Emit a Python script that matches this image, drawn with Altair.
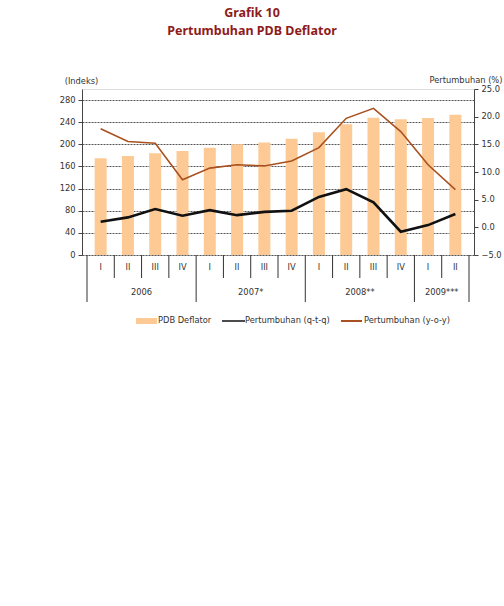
import altair as alt
import pandas as pd

quarters = ["I", "II", "III", "IV", "I", "II", "III", "IV", "I", "II", "III", "IV", "I", "II"]
years = ["2006", "2007*", "2008**", "2009***"]
year_counts = [4, 4, 4, 2]
deflator = [175, 179, 184, 188, 194, 200, 203.5, 210, 222, 236.5, 248, 245.5, 247.5, 253.5]
qtq = [1.0, 1.8, 3.3, 2.1, 3.1, 2.2, 2.8, 3.0, 5.5, 6.9, 4.5, -0.8, 0.4, 2.4]
yoy = [17.8, 15.5, 15.2, 8.6, 10.7, 11.3, 11.1, 12.0, 14.4, 19.7, 21.5, 17.3, 11.3, 6.8]

FONT = "DejaVu Sans"
TFONT = "Noto Sans"
FS = 8.3
W, H = 392, 166
N = len(quarters)

df = pd.DataFrame({"i": list(range(N)), "q": quarters, "defl": deflator, "qtq": qtq, "yoy": yoy})

ystart = []
s = 0
for c in year_counts:
    ystart.append(s)
    s += c
ydf = pd.DataFrame({
    "year": years,
    "mid": [st + (c - 1) / 2 for st, c in zip(ystart, year_counts)],
})
bounds_year = [st - 0.5 for st in ystart] + [N - 0.5]
bounds_q = [b - 0.5 for b in range(1, N) if (b - 0.5) not in bounds_year]
qdiv = pd.DataFrame({"b": bounds_q})
ydiv = pd.DataFrame({"b": bounds_year})

xs = alt.Scale(domain=[-0.5, N - 0.5], nice=False, zero=False)
X = alt.X("i:Q", scale=xs, axis=None)

left_scale = alt.Scale(domain=[0, 300], nice=False)
right_scale = alt.Scale(domain=[-5, 25], nice=False)

bars = alt.Chart(df).mark_bar(size=12, color="#FDCA95").encode(
    x=X,
    y=alt.Y("defl:Q", scale=left_scale, axis=alt.Axis(
        values=list(range(0, 281, 40)), grid=True, gridDash=[2, 1], gridColor="#555",
        gridWidth=1, domainColor="#444", tickColor="#444", tickSize=4,
        labelFont=FONT, labelFontSize=FS, labelColor="#333", labelPadding=3,
        title="(Indeks)", titleAngle=0, titleAlign="center", titleBaseline="middle",
        titleX=-1, titleY=-8, titleFont=FONT, titleFontSize=FS, titleFontWeight="normal",
        titleColor="#333")),
)

line_yoy = alt.Chart(df).mark_line(color="#A8501F", strokeWidth=1.6).encode(
    x=X,
    y=alt.Y("yoy:Q", scale=right_scale, axis=alt.Axis(
        orient="right", values=list(range(-5, 26, 5)), format=".1f", grid=False,
        domainColor="#444", tickColor="#444", tickSize=4,
        labelFont=FONT, labelFontSize=FS, labelColor="#333", labelPadding=3,
        title="Pertumbuhan (%)", titleAngle=0, titleAlign="right", titleBaseline="middle",
        titleX=28, titleY=-9, titleFont=FONT, titleFontSize=FS, titleFontWeight="normal",
        titleColor="#333")),
)
line_qtq = alt.Chart(df).mark_line(color="#111", strokeWidth=2.6).encode(
    x=X, y=alt.Y("qtq:Q", scale=right_scale, axis=None),
)

qlabels = alt.Chart(df).mark_text(font=FONT, fontSize=FS, color="#333", baseline="middle").encode(
    x=X, y=alt.value(179), text="q:N")
ylabels = alt.Chart(ydf).mark_text(font=FONT, fontSize=FS, color="#333", baseline="middle").encode(
    x=alt.X("mid:Q", scale=xs, axis=None), y=alt.value(204), text="year:N")
qrules = alt.Chart(qdiv).mark_rule(color="#333", strokeWidth=1).encode(
    x=alt.X("b:Q", scale=xs, axis=None), y=alt.value(H), y2=alt.value(H + 23))
yrules = alt.Chart(ydiv).mark_rule(color="#333", strokeWidth=1).encode(
    x=alt.X("b:Q", scale=xs, axis=None), y=alt.value(H), y2=alt.value(H + 47))

title1 = alt.Chart(pd.DataFrame({"t": ["Grafik 10"]})).mark_text(
    font=TFONT, fontSize=12.5, fontWeight="bold", color="#8E1B1B", baseline="middle").encode(
    x=alt.value(170), y=alt.value(-76), text="t:N")
title2 = alt.Chart(pd.DataFrame({"t": ["Pertumbuhan PDB Deflator"]})).mark_text(
    font=TFONT, fontSize=12.5, fontWeight="bold", color="#8E1B1B", baseline="middle").encode(
    x=alt.value(170), y=alt.value(-58), text="t:N")

LY = 232
leg_rect = alt.Chart(pd.DataFrame({"k": ["PDB Deflator"]})).mark_rect(color="#FDCA95").encode(
    x=alt.value(54), x2=alt.value(75), y=alt.value(LY - 3), y2=alt.value(LY + 3))
leg_l1 = alt.Chart(pd.DataFrame({"k": ["q"]})).mark_rule(color="#111", strokeWidth=1.5).encode(
    x=alt.value(140), x2=alt.value(163), y=alt.value(LY))
leg_l2 = alt.Chart(pd.DataFrame({"k": ["y"]})).mark_rule(color="#A8501F", strokeWidth=2).encode(
    x=alt.value(259), x2=alt.value(280), y=alt.value(LY))
leg_text = alt.Chart(pd.DataFrame({
    "t": ["PDB Deflator", "Pertumbuhan (q-t-q)", "Pertumbuhan (y-o-y)"],
    "px": [76, 163, 282],
})).mark_text(font=FONT, fontSize=FS, color="#333", align="left", baseline="middle").encode(
    x=alt.X("px:Q", scale=None), y=alt.value(LY), text="t:N")

chart = alt.layer(
    bars, line_yoy, line_qtq,
).resolve_scale(y="independent")

full = alt.layer(
    chart, qlabels, ylabels, qrules, yrules, title1, title2,
    leg_rect, leg_l1, leg_l2, leg_text,
).properties(
    width=W, height=H,
    autosize=alt.AutoSizeParams(type="none"),
    padding={"left": 82, "top": 89, "right": 30, "bottom": 351},
).configure_view(stroke=None).configure(background="white")

full.save("out.html", embed_options={"renderer": "svg", "actions": False})
